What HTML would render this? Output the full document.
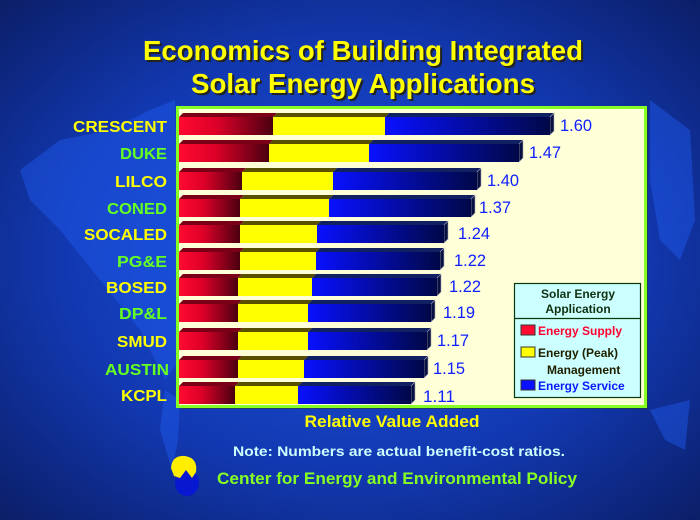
<!DOCTYPE html>
<html><head><style>
html,body{margin:0;padding:0;width:700px;height:520px;overflow:hidden}
.v{font-size:17px;fill:#1020ff}
.n{font-size:16px;font-weight:bold;text-anchor:end}
</style></head><body>
<svg width="700" height="520" viewBox="0 0 700 520" xmlns="http://www.w3.org/2000/svg" font-family="Liberation Sans, sans-serif">
<defs>
<radialGradient id="bg" cx="0.5" cy="0.5" r="0.75">
<stop offset="0" stop-color="#1a52e0"/><stop offset="0.55" stop-color="#1238b0"/><stop offset="1" stop-color="#0a1a5c"/>
</radialGradient>
<linearGradient id="rd" x1="0" x2="1"><stop offset="0" stop-color="#ff0a30"/><stop offset="0.4" stop-color="#dd0028"/><stop offset="1" stop-color="#4a0010"/></linearGradient>
<linearGradient id="bl" x1="0" x2="1"><stop offset="0" stop-color="#0810ff"/><stop offset="1" stop-color="#000848"/></linearGradient>
</defs>
<rect width="700" height="520" fill="url(#bg)"/>
<g fill="#1e5cf0" opacity="0.45">
<path d="M20 170 L60 140 L110 130 L150 110 L175 100 L180 360 L165 380 L140 330 L100 280 L60 230 L30 200Z"/>
<path d="M165 390 L180 400 L178 440 L172 470 L160 430Z"/>
<path d="M650 100 L690 130 L695 220 L680 260 L660 240 L650 180Z"/>
<path d="M650 410 L690 400 L685 450 L665 440Z"/>
</g>
<g font-weight="bold" font-size="28" text-anchor="middle">
<text x="363" y="60" fill="#222" transform="translate(2,2)" textLength="440" lengthAdjust="spacingAndGlyphs">Economics of Building Integrated</text>
<text x="363" y="60" fill="#ffff00" textLength="440" lengthAdjust="spacingAndGlyphs">Economics of Building Integrated</text>
<text x="363" y="93" fill="#222" transform="translate(2,2)" textLength="344" lengthAdjust="spacingAndGlyphs">Solar Energy Applications</text>
<text x="363" y="93" fill="#ffff00" textLength="344" lengthAdjust="spacingAndGlyphs">Solar Energy Applications</text>
</g>
<rect x="180" y="109" width="468" height="300" fill="#2a3a20" opacity="0.5"/>
<rect x="177.5" y="107.5" width="468" height="299" fill="#ffffd8" stroke="#88ff22" stroke-width="3"/>

<g transform="translate(0,117)">
<polygon points="179,0 183,-4 277,-4 273,0" fill="#7a0018"/><polygon points="273,0 277,-4 389,-4 385,0" fill="#585000"/><polygon points="385,0 389,-4 554,-4 550,0" fill="#102060"/><polygon points="550,0 554,-4 554,14 550,18" fill="#081040" stroke="#aab" stroke-width="0.6"/>
<rect x="179" width="94" height="18" fill="url(#rd)"/><rect x="273" width="112" height="18" fill="#ffff00"/><rect x="385" width="165" height="18" fill="url(#bl)"/>
<text class="v" x="560" y="14" textLength="32" lengthAdjust="spacingAndGlyphs">1.60</text>
<text class="n" x="167" y="15" fill="#ffff00" textLength="94" lengthAdjust="spacingAndGlyphs">CRESCENT</text></g>

<g transform="translate(0,144)">
<polygon points="179,0 183,-4 273,-4 269,0" fill="#7a0018"/><polygon points="269,0 273,-4 373,-4 369,0" fill="#585000"/><polygon points="369,0 373,-4 523,-4 519,0" fill="#102060"/><polygon points="519,0 523,-4 523,14 519,18" fill="#081040" stroke="#aab" stroke-width="0.6"/>
<rect x="179" width="90" height="18" fill="url(#rd)"/><rect x="269" width="100" height="18" fill="#ffff00"/><rect x="369" width="150" height="18" fill="url(#bl)"/>
<text class="v" x="529" y="14" textLength="32" lengthAdjust="spacingAndGlyphs">1.47</text>
<text class="n" x="167" y="15" fill="#66ff22" textLength="47" lengthAdjust="spacingAndGlyphs">DUKE</text></g>

<g transform="translate(0,172)">
<polygon points="179,0 183,-4 246,-4 242,0" fill="#7a0018"/><polygon points="242,0 246,-4 337,-4 333,0" fill="#585000"/><polygon points="333,0 337,-4 481,-4 477,0" fill="#102060"/><polygon points="477,0 481,-4 481,14 477,18" fill="#081040" stroke="#aab" stroke-width="0.6"/>
<rect x="179" width="63" height="18" fill="url(#rd)"/><rect x="242" width="91" height="18" fill="#ffff00"/><rect x="333" width="144" height="18" fill="url(#bl)"/>
<text class="v" x="487" y="14" textLength="32" lengthAdjust="spacingAndGlyphs">1.40</text>
<text class="n" x="167" y="15" fill="#ffff00" textLength="52" lengthAdjust="spacingAndGlyphs">LILCO</text></g>

<g transform="translate(0,199)">
<polygon points="179,0 183,-4 244,-4 240,0" fill="#7a0018"/><polygon points="240,0 244,-4 333,-4 329,0" fill="#585000"/><polygon points="329,0 333,-4 475,-4 471,0" fill="#102060"/><polygon points="471,0 475,-4 475,14 471,18" fill="#081040" stroke="#aab" stroke-width="0.6"/>
<rect x="179" width="61" height="18" fill="url(#rd)"/><rect x="240" width="89" height="18" fill="#ffff00"/><rect x="329" width="142" height="18" fill="url(#bl)"/>
<text class="v" x="479" y="14" textLength="32" lengthAdjust="spacingAndGlyphs">1.37</text>
<text class="n" x="167" y="15" fill="#66ff22" textLength="60" lengthAdjust="spacingAndGlyphs">CONED</text></g>

<g transform="translate(0,225)">
<polygon points="179,0 183,-4 244,-4 240,0" fill="#7a0018"/><polygon points="240,0 244,-4 321,-4 317,0" fill="#585000"/><polygon points="317,0 321,-4 448,-4 444,0" fill="#102060"/><polygon points="444,0 448,-4 448,14 444,18" fill="#081040" stroke="#aab" stroke-width="0.6"/>
<rect x="179" width="61" height="18" fill="url(#rd)"/><rect x="240" width="77" height="18" fill="#ffff00"/><rect x="317" width="127" height="18" fill="url(#bl)"/>
<text class="v" x="458" y="14" textLength="32" lengthAdjust="spacingAndGlyphs">1.24</text>
<text class="n" x="167" y="15" fill="#ffff00" textLength="83" lengthAdjust="spacingAndGlyphs">SOCALED</text></g>

<g transform="translate(0,252)">
<polygon points="179,0 183,-4 244,-4 240,0" fill="#7a0018"/><polygon points="240,0 244,-4 320,-4 316,0" fill="#585000"/><polygon points="316,0 320,-4 444,-4 440,0" fill="#102060"/><polygon points="440,0 444,-4 444,14 440,18" fill="#081040" stroke="#aab" stroke-width="0.6"/>
<rect x="179" width="61" height="18" fill="url(#rd)"/><rect x="240" width="76" height="18" fill="#ffff00"/><rect x="316" width="124" height="18" fill="url(#bl)"/>
<text class="v" x="454" y="14" textLength="32" lengthAdjust="spacingAndGlyphs">1.22</text>
<text class="n" x="167" y="15" fill="#66ff22" textLength="50" lengthAdjust="spacingAndGlyphs">PG&amp;E</text></g>

<g transform="translate(0,278)">
<polygon points="179,0 183,-4 242,-4 238,0" fill="#7a0018"/><polygon points="238,0 242,-4 316,-4 312,0" fill="#585000"/><polygon points="312,0 316,-4 441,-4 437,0" fill="#102060"/><polygon points="437,0 441,-4 441,14 437,18" fill="#081040" stroke="#aab" stroke-width="0.6"/>
<rect x="179" width="59" height="18" fill="url(#rd)"/><rect x="238" width="74" height="18" fill="#ffff00"/><rect x="312" width="125" height="18" fill="url(#bl)"/>
<text class="v" x="449" y="14" textLength="32" lengthAdjust="spacingAndGlyphs">1.22</text>
<text class="n" x="167" y="15" fill="#ffff00" textLength="61" lengthAdjust="spacingAndGlyphs">BOSED</text></g>

<g transform="translate(0,304)">
<polygon points="179,0 183,-4 242,-4 238,0" fill="#7a0018"/><polygon points="238,0 242,-4 312,-4 308,0" fill="#585000"/><polygon points="308,0 312,-4 435,-4 431,0" fill="#102060"/><polygon points="431,0 435,-4 435,14 431,18" fill="#081040" stroke="#aab" stroke-width="0.6"/>
<rect x="179" width="59" height="18" fill="url(#rd)"/><rect x="238" width="70" height="18" fill="#ffff00"/><rect x="308" width="123" height="18" fill="url(#bl)"/>
<text class="v" x="443" y="14" textLength="32" lengthAdjust="spacingAndGlyphs">1.19</text>
<text class="n" x="167" y="15" fill="#66ff22" textLength="48" lengthAdjust="spacingAndGlyphs">DP&amp;L</text></g>

<g transform="translate(0,332)">
<polygon points="179,0 183,-4 242,-4 238,0" fill="#7a0018"/><polygon points="238,0 242,-4 312,-4 308,0" fill="#585000"/><polygon points="308,0 312,-4 431,-4 427,0" fill="#102060"/><polygon points="427,0 431,-4 431,14 427,18" fill="#081040" stroke="#aab" stroke-width="0.6"/>
<rect x="179" width="59" height="18" fill="url(#rd)"/><rect x="238" width="70" height="18" fill="#ffff00"/><rect x="308" width="119" height="18" fill="url(#bl)"/>
<text class="v" x="437" y="14" textLength="32" lengthAdjust="spacingAndGlyphs">1.17</text>
<text class="n" x="167" y="15" fill="#ffff00" textLength="50" lengthAdjust="spacingAndGlyphs">SMUD</text></g>

<g transform="translate(0,360)">
<polygon points="179,0 183,-4 242,-4 238,0" fill="#7a0018"/><polygon points="238,0 242,-4 308,-4 304,0" fill="#585000"/><polygon points="304,0 308,-4 428,-4 424,0" fill="#102060"/><polygon points="424,0 428,-4 428,14 424,18" fill="#081040" stroke="#aab" stroke-width="0.6"/>
<rect x="179" width="59" height="18" fill="url(#rd)"/><rect x="238" width="66" height="18" fill="#ffff00"/><rect x="304" width="120" height="18" fill="url(#bl)"/>
<text class="v" x="433" y="14" textLength="32" lengthAdjust="spacingAndGlyphs">1.15</text>
<text class="n" x="169" y="15" fill="#66ff22" textLength="64" lengthAdjust="spacingAndGlyphs">AUSTIN</text></g>

<g transform="translate(0,386)">
<polygon points="179,0 183,-4 239,-4 235,0" fill="#7a0018"/><polygon points="235,0 239,-4 302,-4 298,0" fill="#585000"/><polygon points="298,0 302,-4 415,-4 411,0" fill="#102060"/><polygon points="411,0 415,-4 415,14 411,18" fill="#081040" stroke="#aab" stroke-width="0.6"/>
<rect x="179" width="56" height="18" fill="url(#rd)"/><rect x="235" width="63" height="18" fill="#ffff00"/><rect x="298" width="113" height="18" fill="url(#bl)"/>
<text class="v" x="423" y="16" textLength="32" lengthAdjust="spacingAndGlyphs">1.11</text>
<text class="n" x="167" y="15" fill="#ffff00" textLength="46" lengthAdjust="spacingAndGlyphs">KCPL</text></g>

<rect x="514.5" y="283.5" width="126" height="114" fill="#ccffff" stroke="#0a3a0a" stroke-width="1.2"/>
<line x1="514" y1="318.5" x2="641" y2="318.5" stroke="#0a3a0a" stroke-width="1.2"/>
<g font-weight="bold" font-size="12">
<text x="578" y="298" text-anchor="middle" fill="#103010">Solar Energy</text>
<text x="578" y="313" text-anchor="middle" fill="#103010">Application</text>
<rect x="521" y="325" width="14" height="10" fill="#ff0a30" stroke="#333"/>
<text x="538" y="335" fill="#ff0030">Energy Supply</text>
<rect x="521" y="347" width="14" height="10" fill="#ffff00" stroke="#333"/>
<text x="538" y="357" fill="#202000">Energy (Peak)</text>
<text x="547" y="374" fill="#202000">Management</text>
<rect x="521" y="380" width="14" height="10" fill="#0810ff" stroke="#333"/>
<text x="538" y="390" fill="#0818ff">Energy Service</text>
</g>
<g font-weight="bold" text-anchor="middle">
<text x="392" y="427" font-size="17" fill="#ffff00" textLength="175" lengthAdjust="spacingAndGlyphs">Relative Value Added</text>
<text x="399" y="456" font-size="14" fill="#ccffff" textLength="332" lengthAdjust="spacingAndGlyphs">Note: Numbers are actual benefit-cost ratios.</text>
<text x="397" y="484" font-size="17" fill="#88ff22" textLength="360" lengthAdjust="spacingAndGlyphs">Center for Energy and Environmental Policy</text>
</g>
<ellipse cx="187" cy="483" rx="12" ry="13" fill="#0818d0"/>
<path d="M171 468 Q172 455 185 456 Q198 458 196 472 L192 478 L186 470 L180 478 L174 476Z" fill="#ffee00"/>
</svg>
</body></html>
